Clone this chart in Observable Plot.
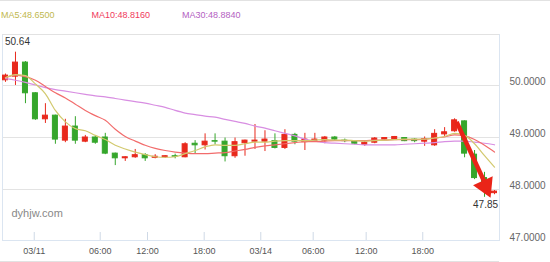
<!DOCTYPE html>
<html><head><meta charset="utf-8">
<script src="https://cdn.jsdelivr.net/npm/d3@7"></script>
<script src="https://cdn.jsdelivr.net/npm/@observablehq/plot@0.6"></script>
<style>
html,body{margin:0;padding:0;background:#fff;}
#wrap{position:relative;width:550px;height:262px;overflow:hidden;font-family:"Liberation Sans",Arial,sans-serif;}
#topline{position:absolute;left:0;top:0;width:550px;height:1px;background:#e2e2e2;}
#legend{position:absolute;left:1px;top:9px;font-size:9px;line-height:12px;white-space:nowrap;}
#legend span{display:inline-block;width:90.5px;}
#bottomline{position:absolute;left:0;top:261px;width:499px;height:1px;background:#e2e2e2;}
#chart{position:absolute;left:0;top:0;}
</style></head>
<body>
<div id="wrap"><div id="chart"></div><div id="topline"></div><div id="legend"></div><div id="bottomline"></div></div>
<script>
// Candles (index order)
const open  = [50.10,50.17,50.44,49.85,49.35,49.42,48.94,49.21,48.92,49.00,49.00,48.69,48.60,48.62,48.66,48.61,48.62,48.64,48.62,48.88,48.85,48.93,48.92,48.64,48.89,48.92,48.92,48.93,48.80,49.05,48.91,48.92,48.94,49.00,48.94,48.92,48.86,48.90,48.96,48.97,48.99,48.96,48.92,48.85,49.06,49.12,49.31,48.67,48.22,47.93];
const close = [50.19,50.44,49.85,49.35,49.42,48.96,49.21,48.94,49.00,48.90,48.69,48.60,48.62,48.66,48.60,48.63,48.64,48.63,48.87,48.85,48.92,48.92,48.64,48.91,48.94,48.94,48.96,48.80,49.05,48.92,48.96,48.96,49.00,48.96,48.93,48.88,48.90,48.98,48.99,49.01,48.93,48.93,48.97,49.07,49.10,49.33,48.69,48.22,47.99,47.96];
const high  = [50.22,50.64,50.46,49.86,49.65,49.43,49.35,49.40,49.04,49.02,49.08,48.70,48.63,48.77,48.69,48.67,48.65,48.68,48.90,48.94,49.07,49.07,48.99,48.99,48.95,49.25,49.13,49.07,49.15,49.08,49.08,49.08,49.02,49.02,48.97,48.94,48.93,49.00,49.00,49.02,49.00,48.98,49.01,49.15,49.19,49.36,49.32,48.75,48.33,47.98];
const low   = [50.06,50.00,49.65,49.33,49.27,48.87,48.90,48.87,48.90,48.87,48.67,48.46,48.54,48.60,48.54,48.59,48.60,48.59,48.61,48.69,48.76,48.86,48.53,48.60,48.64,48.77,48.73,48.78,48.77,48.86,48.75,48.91,48.88,48.94,48.90,48.86,48.83,48.88,48.95,48.96,48.92,48.90,48.83,48.83,49.02,49.10,48.61,48.19,47.85,47.90];
// Moving averages
const ma5  = [50.15,50.21,50.19,50.03,49.84,49.52,49.30,49.17,49.13,49.04,48.96,48.85,48.78,48.72,48.67,48.63,48.62,48.63,48.69,48.75,48.82,48.86,48.85,48.85,48.88,48.91,48.91,48.93,48.94,48.94,48.94,48.95,48.96,48.95,48.95,48.94,48.93,48.94,48.95,48.96,48.97,48.97,48.97,48.99,49.02,49.08,49.04,48.88,48.65,48.43];
const ma10 = [50.15,50.20,50.17,50.10,49.98,49.86,49.76,49.64,49.52,49.42,49.33,49.16,49.02,48.93,48.85,48.79,48.75,48.72,48.70,48.69,48.69,48.70,48.71,48.74,48.77,48.81,48.84,48.86,48.88,48.90,48.92,48.92,48.93,48.94,48.94,48.94,48.94,48.95,48.95,48.96,48.96,48.96,48.97,48.99,49.01,49.05,49.03,48.96,48.85,48.72];
const ma30 = [50.13,50.10,50.06,50.01,49.96,49.92,49.89,49.86,49.83,49.80,49.78,49.75,49.72,49.69,49.66,49.62,49.58,49.52,49.47,49.44,49.41,49.39,49.35,49.31,49.27,49.22,49.18,49.13,49.08,49.03,48.97,48.93,48.90,48.89,48.88,48.87,48.86,48.86,48.86,48.86,48.87,48.88,48.89,48.90,48.92,48.93,48.93,48.91,48.89,48.86];
const maNames  = ["MA5","MA10","MA30"];
const maValues = [48.6500, 48.8160, 48.8840];
// Axis ticks
const xTickPos    = [2.88, 9.49, 14.23, 19.91, 25.58, 30.83, 36.14, 41.81];
const xTickLabels = ["03/11","06:00","12:00","18:00","03/14","06:00","12:00","18:00"];
const yTicks = [47, 48, 49, 50];
const yGrid  = [48, 49, 50];
const xDomain = [-0.30, 49.50];
const yDomain = [47.02, 50.98];
// Annotations
const maxIdx = 1, minIdx = 48;
const arrowShaft = [{x1: 45.2, y1: 49.30, x2: 48.05, y2: 48.12}];
const arrowHead  = [{x: 48.09, y: 48.06}];
const watermark = ["dyhjw.com"];

const maTextColors = ["#bfb84e", "#f0395c", "#b461c2"];
const maLineColors = ["#d2c96e", "#f26c6c", "#d88ee2"];
const up = "#e8291c", down = "#35a62b";

document.getElementById("legend").innerHTML = maNames.map((n, k) =>
  `<span style="color:${maTextColors[k]}">${n}:${maValues[k].toFixed(4)}</span>`).join("");

const data = open.map((o, i) => ({i, open: o, close: close[i], high: high[i], low: low[i], ma5: ma5[i], ma10: ma10[i], ma30: ma30[i]}));
const col = d => d.close >= d.open ? up : down;

const chart = Plot.plot({
  width: 550, height: 262,
  marginTop: 34, marginBottom: 22, marginLeft: 2, marginRight: 51,
  x: {domain: xDomain, axis: null},
  y: {domain: yDomain, axis: null},
  style: {fontFamily: "'Liberation Sans', Arial, sans-serif", background: "transparent", overflow: "visible"},
  marks: [
    Plot.gridY(yGrid, {stroke: "#e3e3e3", strokeOpacity: 1}),
    Plot.frame({stroke: "#dbe5f1"}),
    Plot.ruleY([yDomain[1]], {stroke: "#e2e2e2"}),
    Plot.axisY(yTicks, {anchor: "right", tickSize: 0, tickPadding: 10, dy: -4, tickFormat: d => d.toFixed(4), fontSize: 10, fill: "#666"}),
    Plot.axisX(xTickPos, {anchor: "bottom", tickSize: -8, tickFormat: () => "", stroke: "#cfd9e6", strokeOpacity: 1}),
    Plot.axisX(xTickPos, {anchor: "bottom", tickSize: 0, tickPadding: 7, tickFormat: d => xTickLabels[xTickPos.indexOf(d)], fontSize: 9, fill: "#555"}),
    Plot.text(watermark, {frameAnchor: "bottom-left", dx: 9, dy: -24, text: d => d, fontSize: 11, fill: "#888", textAnchor: "start"}),
    Plot.ruleX(data, {x: "i", y1: "low", y2: "high", stroke: col, strokeWidth: 1}),
    Plot.rect(data, {x1: d => d.i - 0.25, x2: d => d.i + 0.25, y1: "open", y2: "close", fill: col, stroke: col, strokeWidth: 1}),
    Plot.line(data, {x: "i", y: "ma30", stroke: maLineColors[2], strokeWidth: 1.2, curve: "monotone-x"}),
    Plot.line(data, {x: "i", y: "ma10", stroke: maLineColors[1], strokeWidth: 1.2, curve: "monotone-x"}),
    Plot.line(data, {x: "i", y: "ma5", stroke: maLineColors[0], strokeWidth: 1.2, curve: "monotone-x"}),
    Plot.link(arrowShaft, {x1: "x1", y1: "y1", x2: "x2", y2: "y2", stroke: "#ea2418", strokeWidth: 4.5}),
    Plot.dot(arrowHead, {x: "x", y: "y", symbol: "triangle", r: 8, fill: "#ea2418", stroke: "none", rotate: 155.6}),
    Plot.text([data[maxIdx]], {x: "i", y: "high", text: d => d.high.toFixed(2), dy: -10, dx: 2, fontSize: 10, fill: "#333"}),
    Plot.text([data[minIdx]], {x: "i", y: "low", text: d => d.low.toFixed(2), dy: 7, dx: 1, fontSize: 10, fill: "#333"})
  ]
});
document.getElementById("chart").appendChild(chart);
</script>
</body></html>
